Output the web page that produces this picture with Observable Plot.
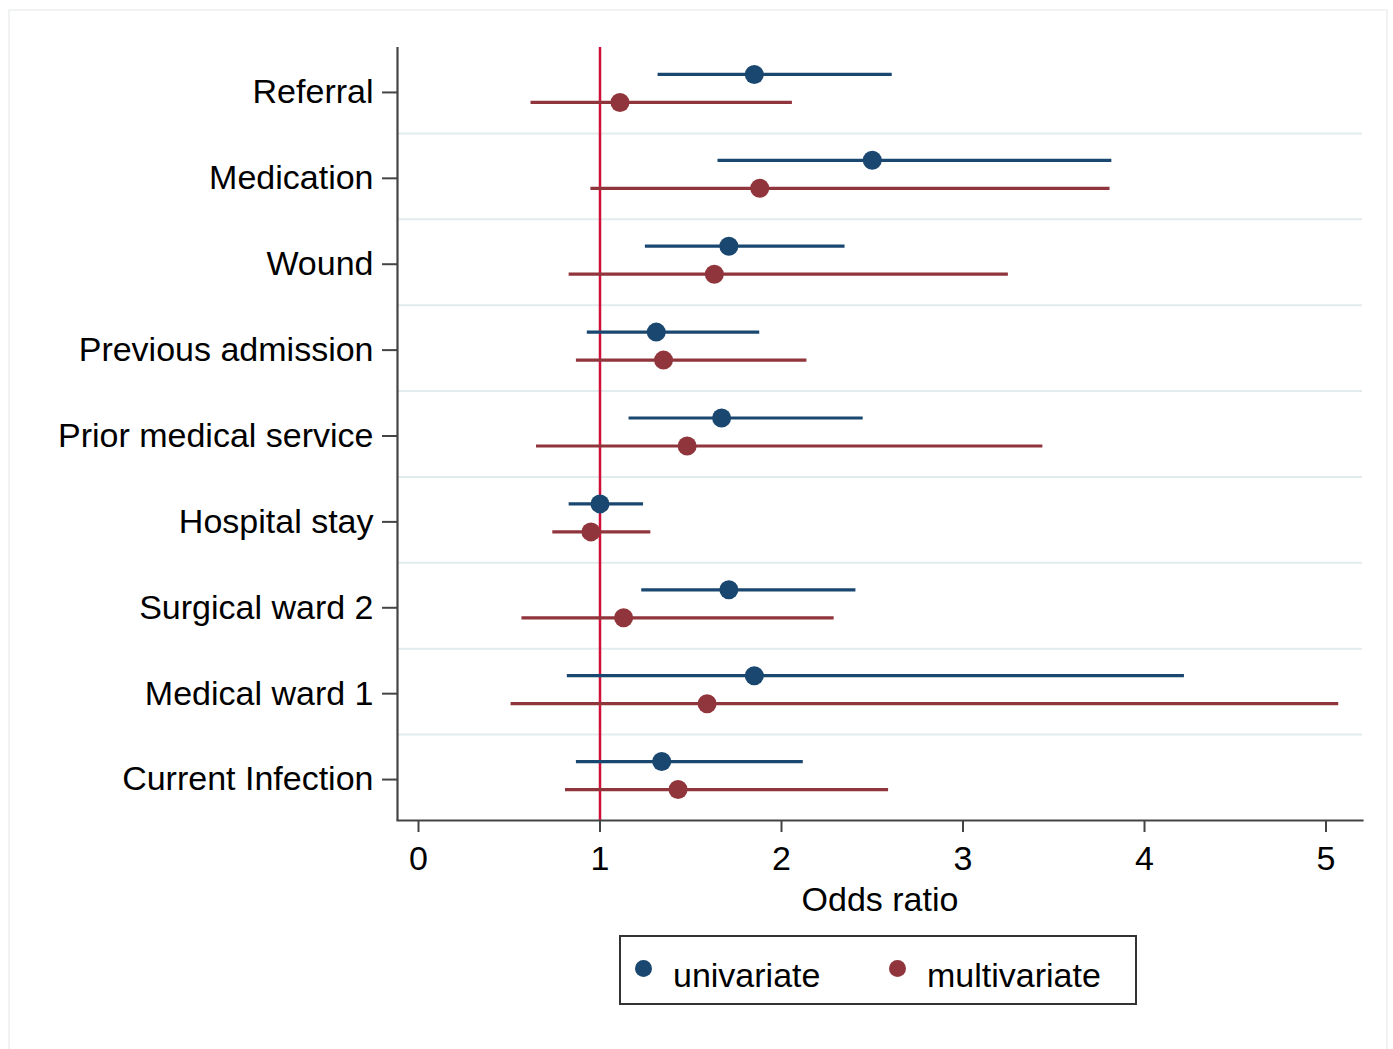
<!DOCTYPE html>
<html>
<head>
<meta charset="utf-8">
<script src="https://cdn.jsdelivr.net/npm/d3@7"></script>
<script src="https://cdn.jsdelivr.net/npm/@observablehq/plot@0.6"></script>
<style>
  body { margin: 0; background: #fff; font-family: "Liberation Sans", Arial, Helvetica, sans-serif; }
  #wrap { position: relative; width: 1393px; height: 1049px; overflow: hidden; }
  #frame { position: absolute; left: 8px; top: 9px; width: 1380px; height: 1045px; border: 2px solid #f1f3f3; box-sizing: border-box; pointer-events: none; }
  #chart { position: absolute; left: 0; top: 0; }
  #legend { position: absolute; left: 619px; top: 935px; width: 518px; height: 70px; border: 2px solid #333; box-sizing: border-box; background: #fff; }
  .lg-dot { position: absolute; width: 17px; height: 17px; border-radius: 50%; }
  .lg-txt { position: absolute; font-size: 34px; color: #000; line-height: 1; }
</style>
</head>
<body>
<div id="wrap">
  <div id="frame"></div>
  <div id="chart"></div>
  <div id="legend"></div>
</div>
<script>
// ---- data ----
const categories = ["Referral", "Medication", "Wound", "Previous admission", "Prior medical service",
  "Hospital stay", "Surgical ward 2", "Medical ward 1", "Current Infection"];
const models = ["univariate", "multivariate"];
const uniOR = [1.85, 2.50, 1.71, 1.31, 1.67, 1.00, 1.71, 1.85, 1.34];
const uniLo = [1.32, 1.65, 1.25, 0.93, 1.16, 0.83, 1.23, 0.82, 0.87];
const uniHi = [2.61, 3.82, 2.35, 1.88, 2.45, 1.24, 2.41, 4.22, 2.12];
const multiOR = [1.11, 1.88, 1.63, 1.35, 1.48, 0.95, 1.13, 1.59, 1.43];
const multiLo = [0.62, 0.95, 0.83, 0.87, 0.65, 0.74, 0.57, 0.51, 0.81];
const multiHi = [2.06, 3.81, 3.25, 2.14, 3.44, 1.28, 2.29, 5.07, 2.59];
const xTicks = [0, 1, 2, 3, 4, 5];
const refValue = 1;
const xLabel = "Odds ratio";
const colors = { univariate: "#1a476f", multivariate: "#90353b" };

// ---- build table ----
const rows = [];
categories.forEach((c, i) => {
  rows.push({ cat: c, model: "univariate", or: uniOR[i], lo: uniLo[i], hi: uniHi[i] });
  rows.push({ cat: c, model: "multivariate", or: multiOR[i], lo: multiLo[i], hi: multiHi[i] });
});
const uni = rows.filter(d => d.model === "univariate");
const multi = rows.filter(d => d.model === "multivariate");

const W = 1393, H = 925;
const mTop = 47, mBottom = H - 820, mLeft = 397, mRight = W - 1362;
const xDomain = [-0.1157, 5.201];
const step = (820 - mTop) / categories.length;
const dyUni = -16, dyMulti = 12;
const axisColor = "#444";

const chart = Plot.plot({
  width: W,
  height: H,
  marginTop: mTop,
  marginBottom: mBottom,
  marginLeft: mLeft,
  marginRight: mRight,
  style: { fontFamily: '"Liberation Sans", Arial, Helvetica, sans-serif', fontSize: "34px", color: "#000", background: "transparent", overflow: "visible" },
  x: { domain: xDomain },
  y: { type: "point", domain: categories, padding: 0.5, round: false },
  marks: [
    // separators between categories
    Plot.ruleY(categories.slice(0, -1), { dy: step / 2, stroke: "#e2ebee", strokeWidth: 2 }),
    // reference line
    Plot.ruleX([refValue], { stroke: "#d0103a", strokeWidth: 2.5 }),
    // CIs
    Plot.ruleY(uni, { y: "cat", x1: "lo", x2: "hi", dy: dyUni, stroke: colors.univariate, strokeWidth: 3.2 }),
    Plot.ruleY(multi, { y: "cat", x1: "lo", x2: "hi", dy: dyMulti, stroke: colors.multivariate, strokeWidth: 3.2 }),
    // points
    Plot.dot(uni, { y: "cat", x: "or", dy: dyUni, r: 9.5, fill: colors.univariate, stroke: "none" }),
    Plot.dot(multi, { y: "cat", x: "or", dy: dyMulti, r: 9.5, fill: colors.multivariate, stroke: "none" }),
    // axis lines
    Plot.ruleX([xDomain[0]], { stroke: axisColor, strokeWidth: 2.2 }),
    Plot.frame({ anchor: "bottom", stroke: axisColor, strokeWidth: 2.2 }),
    // axes
    Plot.axisY({ tickSize: 15, tickPadding: 9, stroke: axisColor, strokeWidth: 2, fill: "#000", fontSize: 34, dy: 2, label: null }),
    Plot.axisX({ ticks: xTicks, tickSize: 12, tickPadding: 13, stroke: axisColor, strokeWidth: 2, fill: "#000", fontSize: 34, label: null, tickFormat: d => String(d) }),
    Plot.text([xLabel], { frameAnchor: "bottom", dy: 90, fontSize: 34, fill: "#000" })
  ]
});
document.getElementById("chart").appendChild(chart);

// ---- legend ----
const legend = document.getElementById("legend");
const legendItems = [
  { key: "univariate", dotX: 14, txtX: 52 },
  { key: "multivariate", dotX: 268, txtX: 306 }
];
legendItems.forEach(it => {
  const dot = document.createElement("div");
  dot.className = "lg-dot";
  dot.style.left = it.dotX + "px";
  dot.style.top = "23px";
  dot.style.background = colors[it.key];
  legend.appendChild(dot);
  const t = document.createElement("div");
  t.className = "lg-txt";
  t.style.left = it.txtX + "px";
  t.style.top = "21px";
  t.textContent = it.key;
  legend.appendChild(t);
});
</script>
</body>
</html>
